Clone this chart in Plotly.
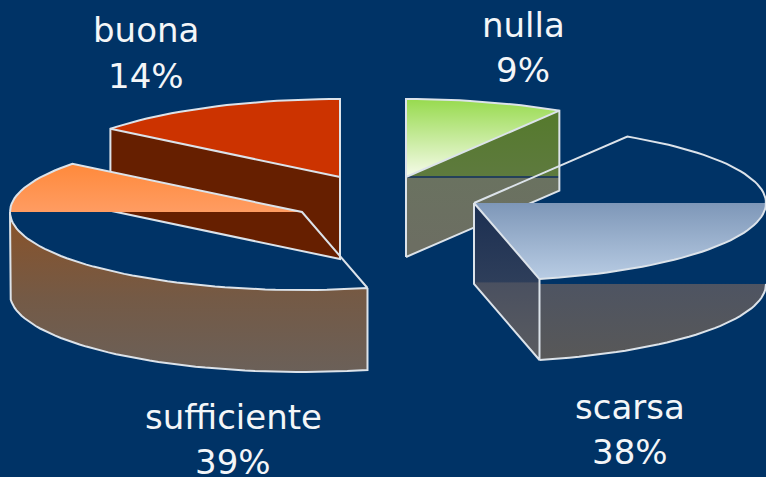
import math
import plotly.graph_objects as go

categories = ["nulla", "scarsa", "sufficiente", "buona"]
shares = [8.8, 37.6, 39.2, 14.4]
percent_labels = ["9%", "38%", "39%", "14%"]

BG = "#003366"
EDGE = "#DCE3EA"
A, B, DEPTH = 292, 78, 82
CENTERS = {"nulla": (406, 177), "scarsa": (474, 203), "sufficiente": (302, 212), "buona": (340, 177)}
LABEL_POS = {"nulla": (523, 25, 70), "scarsa": (630, 407, 452), "sufficiente": (233, 417, 462), "buona": (146, 30, 76)}

spans = {}
acc = 0.0
total = sum(shares)
for name, v in zip(categories, shares):
    spans[name] = (acc / total * 360, (acc + v) / total * 360)
    acc += v


def pt(name, deg, drop=0):
    cx, cy = CENTERS[name]
    t = math.radians(deg)
    return cx + A * math.sin(t), cy - B * math.cos(t) + drop


def arc(name, d0, d1, drop=0):
    n = max(2, int(abs(d1 - d0) / 2))
    return [pt(name, d0 + (d1 - d0) * i / n, drop) for i in range(n + 1)]


def apex(name, drop=0):
    cx, cy = CENTERS[name]
    return cx, cy + drop


fig = go.Figure()


def face(points, colorscale, start, stop):
    xs = [p[0] for p in points] + [points[0][0]]
    ys = [p[1] for p in points] + [points[0][1]]
    fig.add_trace(go.Scatter(
        x=xs, y=ys, mode="lines", fill="toself", line=dict(width=0),
        fillgradient=dict(type="vertical", colorscale=colorscale, start=start, stop=stop),
        hoverinfo="skip", showlegend=False))


def edge(points, width=2, color=EDGE):
    fig.add_trace(go.Scatter(
        x=[p[0] for p in points], y=[p[1] for p in points], mode="lines",
        line=dict(color=color, width=width), hoverinfo="skip", showlegend=False))


# buona
s, e = spans["buona"]
ap, lf = apex("buona"), pt("buona", s)
apb, lfb = apex("buona", DEPTH), pt("buona", s, DEPTH)
face([lf, ap, apb, lfb], [[0, "#661F00"], [1, "#661F00"]], 120, 260)
face(arc("buona", s, e) + [ap], [[0, "#CC3300"], [1, "#CC3300"]], 99, 178)
edge([lfb, lf] + arc("buona", s, e) + [ap, apb, lfb])
edge([lf, ap])

# sufficiente
s, e = spans["sufficiente"]
y0 = CENTERS["sufficiente"][1]
wall = arc("sufficiente", s, 270) + arc("sufficiente", 270, s, DEPTH)
face(wall, [[0, "#8A5228"], [0.55, "#745A46"], [1, "#6B6058"]], y0, y0 + 158)
top = arc("sufficiente", s, e) + [apex("sufficiente")]
ymin = CENTERS["sufficiente"][1] - 47
clear = "rgba(0,51,102,0)"
face(top, [[0, "#FF8A3C"], [0.998, "#FF9C62"], [0.999, clear], [1, clear]], ymin, y0)
edge(arc("sufficiente", 270, e) + [apex("sufficiente"), pt("sufficiente", s)])
edge(arc("sufficiente", s, 270) + arc("sufficiente", 270, s, DEPTH) + [pt("sufficiente", s)])

# nulla
s, e = spans["nulla"]
ap, rt = apex("nulla"), pt("nulla", e)
apb, rtb = apex("nulla", DEPTH - 2), pt("nulla", e, DEPTH - 2)
y0 = CENTERS["nulla"][1]
face([ap, rt, rtb, apb],
     [[0, "#557A2C"], [0.49, "#5E7A3E"], [0.495, "#24405A"], [0.505, "#24405A"], [0.51, "#6A7260"], [1, "#6C6E62"]],
     y0 - 67, y0 + 67)
face(arc("nulla", s, e) + [ap], [[0, "#96DA4C"], [1, "#F6FBEA"]], 98, y0)
edge([apb, pt("nulla", s)] + arc("nulla", s, e) + [rtb, apb])
edge([ap, rt])

# scarsa
s, e = spans["scarsa"]
ap, rt = apex("scarsa"), pt("scarsa", e)
apb, rtb = apex("scarsa", DEPTH - 1), pt("scarsa", e, DEPTH - 1)
y0 = CENTERS["scarsa"][1]
face([ap, rt, rtb, apb],
     [[0, "#1B2F52"], [0.51, "#2E3E5A"], [0.515, "#4A5060"], [1, "#5A5C60"]],
     y0, y0 + 155)
face(arc("scarsa", 90, e) + arc("scarsa", e, 90, DEPTH - 1),
     [[0, clear], [0.09, clear], [0.1, "#4E5462"], [1, "#585858"]],
     y0 + 73, y0 + 155)
face(arc("scarsa", s, e) + [ap],
     [[0, clear], [0.475, clear], [0.476, "#7E97B8"], [1, "#B6CAE2"]],
     y0 - 66, y0 + 73)
edge([ap, rt, rtb, apb, ap])
edge(arc("scarsa", 90, e, DEPTH - 1))
edge([ap] + arc("scarsa", s, e))

for name, pct in zip(categories, percent_labels):
    x, y1, y2 = LABEL_POS[name]
    for txt, y in ((name, y1), (pct, y2)):
        fig.add_annotation(x=x, y=y, xref="x", yref="y", text=txt, showarrow=False,
                           font=dict(family="DejaVu Sans", size=34, color="#F4F6F8"),
                           align="center", xanchor="center", yanchor="middle")

fig.update_layout(
    width=766, height=477, margin=dict(l=0, r=0, t=0, b=0),
    paper_bgcolor=BG, plot_bgcolor=BG, showlegend=False,
    xaxis=dict(range=[0, 766], visible=False, fixedrange=True),
    yaxis=dict(range=[477, 0], visible=False, fixedrange=True),
)
fig.write_html("out.html", config={"displayModeBar": False},
               post_script="document.body.style.margin='0';document.body.style.background='#003366';document.body.style.overflow='hidden';")
